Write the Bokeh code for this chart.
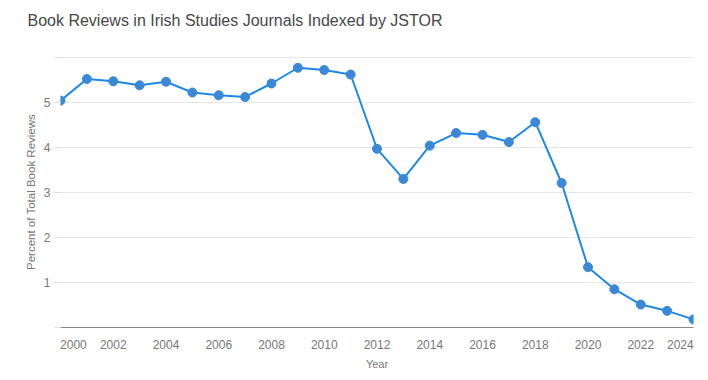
from bokeh.plotting import figure
from bokeh.models import FixedTicker, Range1d, Title
from bokeh.embed import file_html
from bokeh.resources import INLINE

years = list(range(2000, 2025))
percent = [5.04, 5.52, 5.47, 5.38, 5.46, 5.22, 5.16, 5.12, 5.42, 5.77, 5.72, 5.62,
           3.97, 3.30, 4.04, 4.32, 4.28, 4.12, 4.56, 3.21, 1.34, 0.85, 0.51, 0.37, 0.18]
x_ticks = list(range(2000, 2025, 2))
y_ticks = [0, 1, 2, 3, 4, 5, 6]

FONT = "Liberation Sans"
LINE = "#1e88e8"
MARK = "#3b88d6"

p = figure(width=700, height=372, output_backend="svg", toolbar_location=None,
           x_range=Range1d(2000, 2024), y_range=Range1d(0, 6.02),
           min_border_left=60, min_border_right=7, min_border_top=56, min_border_bottom=45)
p.outline_line_color = None
p.background_fill_color = "white"

p.title.text = "Book Reviews in Irish Studies Journals Indexed by JSTOR"
p.title.text_font = FONT
p.title.text_font_size = "16px"
p.title.text_font_style = "normal"
p.title.text_color = "#474747"
p.title.align = "left"
p.title.vertical_align = "bottom"
p.title.offset = -33
p.title.standoff = 0

# blank spacer between the title and the plot area
p.add_layout(Title(text=" ", text_font_size="1px", standoff=25), "above")

p.line(years, percent, line_color=LINE, line_width=2)
p.scatter(years, percent, size=9, fill_color=MARK, line_color=MARK)

# x axis: the end labels are nudged inward (as in the reference) so they stay inside the frame
first_pos = x_ticks[0] + 0.49
last_pos = x_ticks[-1] - 0.5
tick_pos = [first_pos] + x_ticks[1:-1] + [last_pos]
xa = p.xaxis[0]
xa.ticker = FixedTicker(ticks=tick_pos)
xa.major_label_overrides = {first_pos: str(x_ticks[0]), last_pos: str(x_ticks[-1])}
xa.major_tick_line_color = None
xa.minor_tick_line_color = None
xa.axis_line_color = "#8a8a8a"
xa.axis_line_width = 1.2
xa.major_label_standoff = 6
xa.major_label_text_font = FONT
xa.major_label_text_font_size = "12px"
xa.major_label_text_color = "#777777"
xa.axis_label = "Year"
xa.axis_label_text_font = FONT
xa.axis_label_text_font_size = "11px"
xa.axis_label_text_font_style = "normal"
xa.axis_label_text_color = "#777777"
xa.axis_label_standoff = 6

# y axis
ya = p.yaxis[0]
ya.ticker = FixedTicker(ticks=y_ticks)
ya.major_label_overrides = {0: "", 6: ""}
ya.axis_line_color = None
ya.major_tick_line_color = "#dddddd"
ya.major_tick_out = 6
ya.major_tick_in = 0
ya.minor_tick_line_color = None
ya.major_label_standoff = 4
ya.major_label_text_font = FONT
ya.major_label_text_font_size = "12px"
ya.major_label_text_color = "#777777"
ya.axis_label = "Percent of Total Book Reviews"
ya.axis_label_text_font = FONT
ya.axis_label_text_font_size = "11.5px"
ya.axis_label_text_font_style = "normal"
ya.axis_label_text_color = "#777777"
ya.axis_label_standoff = 4

p.xgrid.grid_line_color = None
p.ygrid.grid_line_color = "#e6e6e6"
p.ygrid.ticker = FixedTicker(ticks=y_ticks)

open("out.html", "w").write(file_html(p, INLINE))
